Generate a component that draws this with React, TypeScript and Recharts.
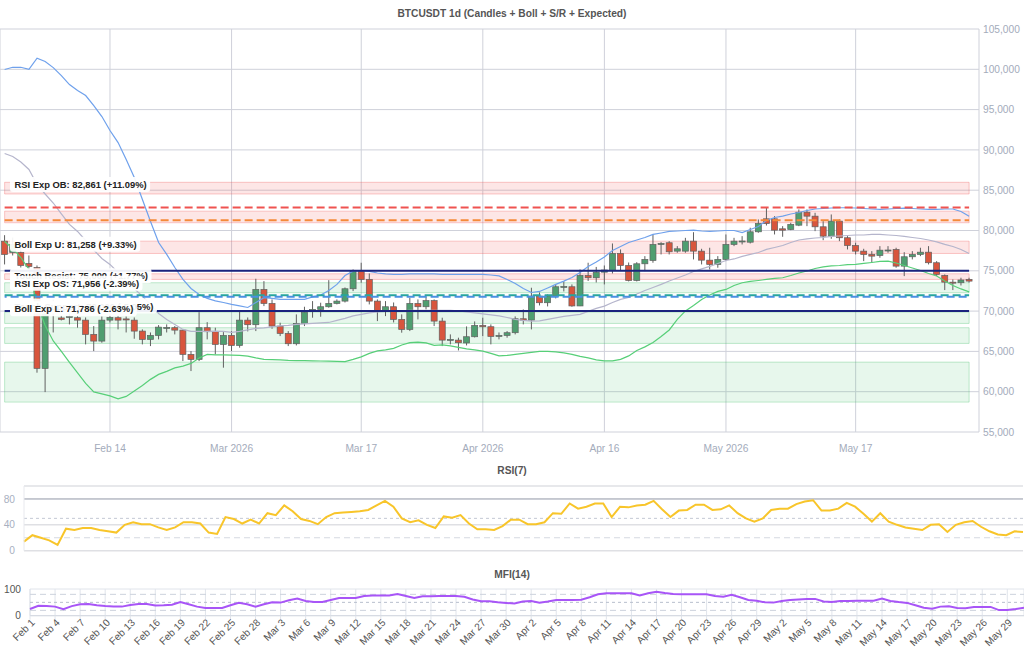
import React from "react";
import {
  ComposedChart,
  LineChart,
  Line,
  Bar,
  XAxis,
  YAxis,
  CartesianGrid,
  ReferenceLine,
  ReferenceArea,
} from "recharts";

// daily candles from Feb 1 2026: [open, high, low, close]
const CANDLES: [number, number, number, number][] = [
  [78680, 79420, 75790, 77030], [77270, 79130, 76900, 78270], [77270, 78510, 75410, 75660], [75910, 76900, 75040, 75540],
  [75410, 75660, 62360, 62890], [62890, 71200, 59950, 69960], [69960, 71450, 67350, 70700], [69150, 69460, 68840, 68970],
  [69210, 69710, 68350, 69340], [69180, 69380, 67940, 68880], [68880, 69210, 65870, 67110], [67110, 68140, 65040, 66280],
  [66280, 69340, 66080, 68880], [68880, 69590, 68590, 69210], [69180, 69460, 67730, 68880], [69030, 69340, 67350, 68900],
  [68880, 69210, 66570, 67520], [67520, 67730, 65870, 66490], [66490, 67350, 65660, 66980], [66980, 68260, 66490, 68010],
  [67850, 68350, 67350, 67970], [67940, 68140, 67110, 67640], [67640, 67730, 63800, 64630], [64630, 65040, 62560, 64010],
  [64010, 69870, 63800, 67940], [67940, 68630, 66490, 67440], [67440, 67940, 64630, 65870], [65870, 67390, 62980, 66980],
  [66980, 67520, 65040, 65740], [65740, 70000, 65460, 68880], [68880, 69210, 67480, 68310], [68310, 74010, 67520, 72690],
  [72690, 73720, 70620, 70950], [70950, 71450, 67810, 68140], [68140, 68560, 66900, 67230], [67230, 67520, 65660, 65950],
  [65950, 69590, 65740, 68470], [68470, 70540, 68140, 69870], [70000, 71240, 69180, 70210], [70210, 71040, 69300, 70540],
  [70540, 73840, 70420, 70950], [70950, 71450, 70830, 71240], [71240, 72930, 71070, 72770], [72770, 75170, 72480, 74960],
  [74960, 76000, 73520, 73930], [73930, 74670, 70830, 71240], [71240, 71450, 68760, 70000], [70000, 71240, 69380, 70540],
  [70540, 71070, 68590, 68970], [68970, 69590, 67320, 67730], [67730, 71660, 67520, 70950], [70950, 71450, 68970, 70540],
  [70540, 71820, 70210, 71300], [71300, 71450, 68140, 68760], [68760, 69180, 65660, 66400], [66420, 67110, 65870, 66490],
  [66400, 66700, 65120, 66080], [66050, 68100, 65740, 66820], [66820, 68720, 66730, 68220], [68220, 69180, 66900, 68060],
  [68060, 68350, 65870, 66860], [66920, 67350, 66490, 66980], [66980, 67520, 66700, 67320], [67320, 69340, 67110, 69050],
  [69050, 70210, 68350, 68880], [68880, 72900, 67730, 71860], [71860, 72310, 70700, 71040], [71040, 72070, 70580, 71860],
  [71860, 73310, 71570, 73020], [73020, 73680, 72440, 73060], [73020, 73310, 70540, 70640], [70640, 75170, 70620, 74420],
  [74420, 76000, 73740, 74140], [74140, 75480, 73550, 74830], [74830, 75660, 73310, 75100], [75040, 78390, 74670, 77150],
  [77150, 77650, 75080, 75660], [75660, 76030, 73680, 73800], [73800, 76070, 73680, 75870], [75870, 76820, 74960, 76410],
  [76280, 79510, 76000, 78270], [78350, 78550, 77030, 78390], [78480, 78680, 77030, 77360], [77440, 78060, 77240, 77730],
  [77440, 79090, 77240, 78680], [78680, 79790, 76410, 77440], [77440, 77730, 75790, 76320], [76320, 77860, 75170, 75790],
  [75790, 76820, 75380, 76410], [76410, 79510, 76200, 78270], [78270, 79090, 78060, 78680], [78680, 79300, 78270, 78700],
  [78550, 80340, 78390, 79840], [79840, 81370, 79720, 80870], [81450, 82820, 80620, 80870], [81450, 81780, 79510, 80040],
  [80210, 80540, 79220, 80040], [80130, 80960, 80040, 80750], [80660, 82610, 80540, 82270], [82270, 82610, 80540, 81780],
  [81780, 82200, 79920, 80460], [80460, 81160, 78800, 79300], [79300, 81990, 78970, 81160], [81160, 81370, 78680, 79100],
  [79100, 79300, 77650, 78140], [78140, 78480, 77030, 77440], [77440, 77730, 76200, 77030], [77030, 77440, 76000, 76820],
  [76900, 78060, 76620, 77560], [77560, 78060, 77240, 77580], [77650, 77860, 75380, 75580], [75580, 77310, 74340, 76740],
  [76740, 77440, 76410, 77030], [77030, 77860, 76820, 77310], [77310, 78060, 75790, 76000], [76000, 76200, 74340, 74550],
  [74420, 74550, 72610, 73590], [73590, 73930, 72610, 73520], [73520, 74140, 73180, 73860], [73930, 74140, 73520, 73720],
];

const BOLL_UPPER = [
  99970, 100250, 100250, 100000, 101370, 100960, 100210, 99220, 98110, 97360,
  96740, 95500, 94140, 92400, 90910, 88810, 86570, 83850, 81120, 78510,
  77030, 75410, 73930, 72810, 72070, 71570, 71260, 71070, 70830, 70640,
  70450, 71070, 71660, 71570, 71450, 71450, 71450, 71450, 71760, 72000,
  72560, 73310, 74420, 74960, 75040, 74920, 74730, 74610, 74550, 74550,
  74610, 74610, 74610, 74610, 74550, 74550, 74550, 74550, 74550, 74550,
  74480, 74360, 73930, 73430, 72810, 72310, 72440, 72870, 73310, 73720,
  74170, 74790, 75540, 76100, 76720, 77520, 78020, 78510, 78820, 79130,
  79510, 79690, 79880, 79940, 80000, 80040, 79940, 79880, 79940, 80000,
  80000, 79750, 80130, 80500, 81240, 81610, 81780, 82050, 82230, 82480,
  82670, 82730, 82790, 82820, 82820, 82790, 82730, 82670, 82610, 82670,
  82730, 82770, 82730, 82670, 82610, 82610, 82670, 82670, 82360, 81780,
];

const BOLL_MID = [
  89550, 89180, 88500, 87570, 85710, 84530, 83410, 82050, 80750, 79880,
  78760, 77580, 76530, 75790, 74790, 73800, 72810, 71820, 70830, 69710,
  68970, 68350, 67730, 67480, 67480, 67480, 67520, 67480, 67350, 67480,
  67660, 67850, 67910, 68040, 68160, 68220, 68350, 68410, 68470, 68530,
  68590, 68840, 69090, 69400, 69590, 69770, 69900, 69960, 70000, 70020,
  70080, 70080, 70080, 70080, 70080, 70080, 70020, 69900, 69770, 69650,
  69520, 69400, 69210, 68970, 68840, 68760, 68780, 68970, 69150, 69340,
  69460, 69590, 69960, 70330, 70620, 71070, 71450, 71690, 72130, 72560,
  72930, 73310, 73740, 74110, 74480, 74920, 75230, 75540, 75910, 76280,
  76470, 76780, 77030, 77270, 77650, 77890, 78140, 78510, 78820, 78950,
  79070, 79130, 79260, 79320, 79380, 79440, 79440, 79510, 79510, 79440,
  79380, 79260, 79130, 79010, 78820, 78580, 78270, 78020, 77650, 77150,
];

const BOLL_LOWER = [
  78640, 77770, 76650, 75170, 70830, 68220, 66300, 65000, 63630, 62330,
  61030, 59980, 59730, 59480, 59110, 59420, 60100, 60780, 61530, 62150,
  62520, 62950, 63180, 63510, 64190, 64630, 64560, 64560, 64530, 64500,
  64420, 64190, 64010, 63970, 63940, 63880, 63860, 63850, 63820, 63810,
  63800, 63760, 63730, 64010, 64320, 64750, 65060, 65180, 65370, 65800,
  66080, 66150, 66050, 65740, 65800, 65680, 65490, 65310, 65180, 65040,
  64750, 64440, 64500, 64630, 64750, 64870, 65000, 65000, 64940, 64810,
  64630, 64380, 64190, 63940, 63820, 63820, 64010, 64440, 65120, 65560,
  66110, 66860, 67660, 68970, 70020, 70700, 71450, 72000, 72440, 72690,
  73180, 73520, 73680, 73800, 73930, 74050, 74140, 74420, 74730, 74980,
  75290, 75480, 75600, 75660, 75760, 75790, 75910, 76030, 76160, 76200,
  75970, 75660, 75350, 75040, 74670, 74360, 73740, 73180, 72750, 72380,
];

const RSI7 = [
  14, 24, 20, 16, 9, 34, 32, 35, 35, 32, 30, 28, 40, 44, 41, 41, 36, 32, 36, 44,
  44, 42, 28, 26, 52, 49, 42, 48, 42, 58, 55, 70, 61, 49, 46, 41, 52, 58, 59, 60,
  61, 63, 70, 77, 68, 50, 44, 47, 40, 35, 53, 51, 55, 42, 33, 33, 32, 38, 48, 48,
  41, 41, 44, 58, 57, 73, 65, 68, 73, 73, 52, 68, 67, 70, 71, 77, 64, 52, 62, 63,
  71, 71, 63, 64, 70, 58, 50, 45, 50, 63, 65, 65, 72, 76, 78, 62, 62, 65, 74, 68,
  57, 45, 58, 45, 40, 36, 34, 32, 40, 41, 29, 40, 44, 46, 37, 30, 25, 24, 30, 29,
];

const MFI14 = [
  25, 37, 36, 34, 24, 36, 43, 44, 39, 36, 34, 34, 40, 44, 44, 38, 39, 41, 51, 43,
  34, 29, 29, 29, 39, 48, 43, 34, 43, 50, 49, 58, 64, 55, 51, 51, 59, 66, 66, 66,
  74, 76, 76, 76, 81, 74, 66, 73, 73, 74, 74, 74, 71, 61, 54, 54, 50, 48, 46, 53,
  55, 49, 53, 59, 59, 59, 60, 69, 80, 84, 84, 84, 84, 76, 84, 90, 85, 81, 80, 80,
  80, 80, 74, 71, 78, 69, 59, 56, 50, 49, 55, 59, 61, 63, 63, 53, 51, 55, 55, 56,
  56, 56, 64, 55, 51, 48, 39, 30, 26, 34, 35, 29, 28, 33, 33, 33, 21, 21, 25, 30,
];

// support / resistance zones [bottom, top]
const RED_ZONES = [[84530, 85980], [80960, 82400], [77150, 78680], [73930, 74630]];
const GREEN_ZONES = [[72280, 73520], [68470, 69870], [65990, 67940], [58710, 63670]];

const RSI_EXP_OB = 82861;
const BOLL_EXP_U = 81258;
const TOUCH_RESIST = 75000;
const RSI_EXP_OS = 71956;
const TOUCH_SUPPORT = 70000;
const BOLL_EXP_L = 71786;

const MAIN_TICKS = [13, 28, 44, 59, 74, 89, 105];
const MAIN_TICK_LABELS = ["Feb 14", "Mar 2026", "Mar 17", "Apr 2026", "Apr 16", "May 2026", "May 17"];
const PRICE_TICKS = [55000, 60000, 65000, 70000, 75000, 80000, 85000, 90000, 95000, 100000, 105000];

const MONTHS = ["Jan", "Feb", "Mar", "Apr", "May", "Jun"];
const DAY_LABELS = CANDLES.map((_, i) => {
  const d = new Date(Date.UTC(2026, 1, 1 + i));
  return `${MONTHS[d.getUTCMonth()]} ${d.getUTCDate()}`;
});
const MFI_TICKS = DAY_LABELS.filter((_, i) => i % 3 === 0);

const FONT = "'Liberation Sans', Arial, Helvetica, sans-serif";
const LABEL_FONT = `bold 9.4px ${FONT}`;

const mainData = CANDLES.map(([o, h, l, c], i) => ({
  i, o, h, l, c,
  up: BOLL_UPPER[i],
  mid: BOLL_MID[i],
  lo: BOLL_LOWER[i],
}));
const rsiData = RSI7.map((v, i) => ({ d: DAY_LABELS[i], v }));
const mfiData = MFI14.map((v, i) => ({ d: DAY_LABELS[i], v }));

let measureCtx: CanvasRenderingContext2D | null = null;
const textWidth = (t: string) => {
  if (!measureCtx && typeof document !== "undefined") {
    measureCtx = document.createElement("canvas").getContext("2d");
  }
  if (!measureCtx) return t.length * 5;
  measureCtx.font = LABEL_FONT;
  return measureCtx.measureText(t).width;
};

const Candle = (props: any) => {
  const { x, y, width, height, payload } = props;
  if (x == null || !payload) return null;
  const top = Math.min(y, y + height);
  const bottom = Math.max(y, y + height);
  const { o, h, l, c } = payload;
  const toY = (v: number) => top + ((h - v) / (h - l)) * (bottom - top);
  const cx = x + width / 2;
  const bodyTop = toY(Math.max(o, c));
  const bodyBottom = toY(Math.min(o, c));
  const rising = c >= o;
  return (
    <g>
      <line x1={cx} x2={cx} y1={top} y2={bottom} stroke="#606060" strokeWidth={1} />
      <rect
        x={cx - 3}
        y={bodyTop}
        width={6}
        height={Math.max(bodyBottom - bodyTop, 1)}
        fill={rising ? "#4f9e70" : "#d8553d"}
        stroke="#606060"
        strokeWidth={0.7}
      />
    </g>
  );
};

const BoxLabel = ({ viewBox, text, dy }: any) => {
  if (!viewBox) return null;
  const cy = viewBox.y + dy;
  const w = textWidth(text);
  return (
    <g>
      <rect x={10} y={cy - 7.5} width={w + 8} height={15} rx={3} fill="#ffffff" fillOpacity={0.93} />
      <text x={14.5} y={cy} dominantBaseline="central" fontSize={9.4} fontWeight={700} fill="#222" fontFamily={FONT}>
        {text}
      </text>
    </g>
  );
};

const AngledTick = ({ x, y, payload }: any) => (
  <text
    x={x + 3}
    y={y - 1}
    transform={`rotate(-45 ${x + 3} ${y - 1})`}
    textAnchor="end"
    dominantBaseline="central"
    fontSize={10.2}
    fill="#555"
    fontFamily={FONT}
  >
    {payload.value}
  </text>
);

const titleStyle: React.CSSProperties = {
  position: "absolute",
  left: 0,
  width: 1024,
  textAlign: "center",
  fontSize: 10.2,
  fontWeight: 700,
  color: "#555",
  lineHeight: "14px",
};

const segment = (v: number) => [{ x: 0, y: v }, { x: 119, y: v }];

export default function App() {
  return (
    <div style={{ position: "absolute", left: 0, top: 0, width: 1024, height: 662, background: "#fff", fontFamily: FONT }}>
      <div style={{ ...titleStyle, top: 7 }}>BTCUSDT 1d (Candles + Boll + S/R + Expected)</div>
      <div style={{ position: "absolute", left: 0, top: 0 }}>
        <ComposedChart width={1024} height={462} data={mainData} margin={{ top: 29, right: 0, bottom: 0, left: 0 }}>
          <CartesianGrid stroke="#cfd1da" />
          <XAxis
            type="number"
            dataKey="i"
            domain={[-0.571, 120.22]}
            allowDataOverflow
            ticks={MAIN_TICKS}
            interval={0}
            tickFormatter={(v) => MAIN_TICK_LABELS[MAIN_TICKS.indexOf(v)]}
            axisLine={false}
            tickLine={false}
            tickMargin={7}
            height={30}
            tick={{ fill: "#a3abbb", fontSize: 10.2 }}
          />
          <YAxis
            orientation="right"
            domain={[55000, 105000]}
            allowDataOverflow
            ticks={PRICE_TICKS}
            interval={0}
            width={45}
            tickSize={0}
            tickMargin={4}
            tickLine={false}
            axisLine={false}
            tickFormatter={(v) => v.toLocaleString("en-US")}
            tick={{ fill: "#a3abbb", fontSize: 10.2, textAnchor: "start" }}
          />
          {RED_ZONES.map(([a, b], k) => (
            <ReferenceArea key={"rz" + k} x1={0} x2={119} y1={a} y2={b} fill="#f05050" fillOpacity={0.14} stroke="#f05050" strokeOpacity={0.3} />
          ))}
          {GREEN_ZONES.map(([a, b], k) => (
            <ReferenceArea key={"gz" + k} x1={0} x2={119} y1={a} y2={b} fill="#3cbe64" fillOpacity={0.12} stroke="#3cbe64" strokeOpacity={0.3} />
          ))}
          <Line type="linear" dataKey="up" stroke="#6fa1ec" strokeWidth={1.2} dot={false} isAnimationActive={false} />
          <Line type="linear" dataKey="mid" stroke="#b5b5cc" strokeWidth={1.2} dot={false} isAnimationActive={false} />
          <Line type="linear" dataKey="lo" stroke="#57cf78" strokeWidth={1.2} dot={false} isAnimationActive={false} />
          <Bar dataKey={(d: any) => [d.l, d.h]} barSize={6} shape={(p: any) => <Candle {...p} />} isAnimationActive={false} />
          <ReferenceLine segment={segment(RSI_EXP_OB)} stroke="#ef5350" strokeWidth={2} strokeDasharray="8 4" />
          <ReferenceLine segment={segment(BOLL_EXP_U)} stroke="#f58a3a" strokeWidth={2} strokeDasharray="8 4" />
          <ReferenceLine segment={segment(TOUCH_RESIST)} stroke="#1a237e" strokeWidth={2} />
          <ReferenceLine segment={segment(TOUCH_SUPPORT)} stroke="#1a237e" strokeWidth={2} />
          <ReferenceLine segment={segment(RSI_EXP_OS)} stroke="#26a69a" strokeWidth={2} strokeDasharray="8 4" />
          <ReferenceLine segment={segment(BOLL_EXP_L)} stroke="#4a90e2" strokeWidth={2} strokeDasharray="8 4" strokeDashoffset={6} />
          <ReferenceLine y={RSI_EXP_OB} strokeOpacity={0} label={(p: any) => <BoxLabel viewBox={p.viewBox} dy={-23} text="RSI Exp OB: 82,861 (+11.09%)" />} />
          <ReferenceLine y={BOLL_EXP_U} strokeOpacity={0} label={(p: any) => <BoxLabel viewBox={p.viewBox} dy={24} text="Boll Exp U: 81,258 (+9.33%)" />} />
          <ReferenceLine y={TOUCH_RESIST} strokeOpacity={0} label={(p: any) => <BoxLabel viewBox={p.viewBox} dy={5} text="Touch Resist: 75,000 (+1.77%)" />} />
          <ReferenceLine y={RSI_EXP_OS} strokeOpacity={0} label={(p: any) => <BoxLabel viewBox={p.viewBox} dy={-12} text="RSI Exp OS: 71,956 (-2.39%)" />} />
          <ReferenceLine y={TOUCH_SUPPORT} strokeOpacity={0} label={(p: any) => <BoxLabel viewBox={p.viewBox} dy={-5} text="Touch Support: 70,000 (-5.05%)" />} />
          <ReferenceLine y={BOLL_EXP_L} strokeOpacity={0} label={(p: any) => <BoxLabel viewBox={p.viewBox} dy={12} text="Boll Exp L: 71,786 (-2.63%)" />} />
        </ComposedChart>
      </div>

      <div style={{ ...titleStyle, top: 464 }}>RSI(7)</div>
      <div style={{ position: "absolute", left: 0, top: 480 }}>
        <LineChart width={1024} height={80} data={rsiData} margin={{ top: 6, right: 1, bottom: 9.3, left: 0 }}>
          <CartesianGrid vertical={false} stroke="#dfe0e4" strokeWidth={1.5} />
          <XAxis dataKey="d" hide />
          <YAxis
            domain={[0, 100]}
            ticks={[0, 40, 80]}
            interval={0}
            width={24}
            tickLine={false}
            tickMargin={3}
            axisLine={{ stroke: "#e8e9ee" }}
            tick={{ fill: "#a8b0bf", fontSize: 10.2 }}
          />
          <ReferenceLine y={80} stroke="#a9aeba" />
          <ReferenceLine y={50} stroke="#c3c8d4" strokeDasharray="3 3" />
          <ReferenceLine y={20} stroke="#d5d9e1" strokeDasharray="6 4" />
          <Line type="linear" dataKey="v" stroke="#f8c52a" strokeWidth={2} dot={false} isAnimationActive={false} />
        </LineChart>
      </div>

      <div style={{ ...titleStyle, top: 568 }}>MFI(14)</div>
      <div style={{ position: "absolute", left: 0, top: 580 }}>
        <LineChart width={1024} height={82} data={mfiData} margin={{ top: 9, right: 0, bottom: 0, left: 0 }}>
          <CartesianGrid stroke="#e0e4eb" />
          <XAxis
            dataKey="d"
            ticks={MFI_TICKS}
            interval={0}
            height={46.3}
            tickSize={4}
            tickLine={{ stroke: "#e0e4eb" }}
            axisLine={{ stroke: "#d3d8e1" }}
            tick={<AngledTick />}
          />
          <YAxis
            domain={[0, 100]}
            ticks={[0, 100]}
            interval={0}
            width={30}
            tickLine={false}
            tickMargin={3}
            axisLine={false}
            tick={{ fill: "#555", fontSize: 10.2 }}
          />
          <ReferenceLine y={80} stroke="#ccd2dd" strokeDasharray="6 4" />
          <ReferenceLine y={50} stroke="#b7bfcd" strokeDasharray="3 3" />
          <ReferenceLine y={20} stroke="#ccd2dd" strokeDasharray="6 4" />
          <Line type="linear" dataKey="v" stroke="#a855f7" strokeWidth={2} dot={false} isAnimationActive={false} />
        </LineChart>
      </div>
    </div>
  );
}
